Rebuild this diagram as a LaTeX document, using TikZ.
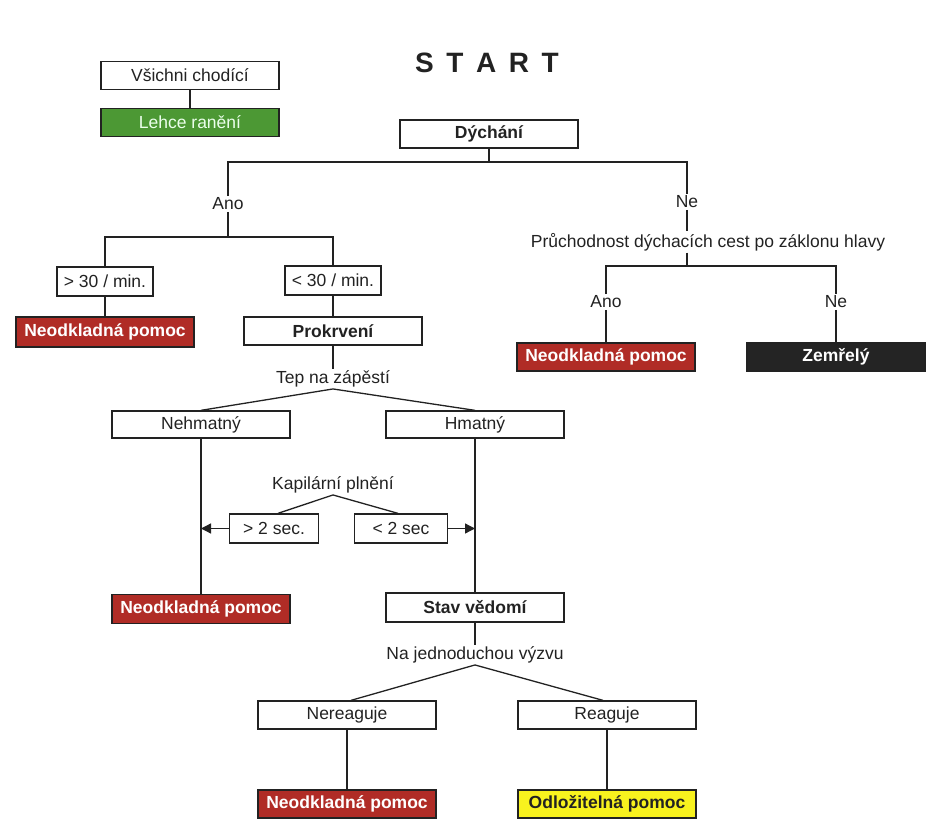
\documentclass[tikz,border=0pt]{standalone}
\usepackage{fontspec}
\setmainfont{Liberation Sans}
\usetikzlibrary{arrows.meta}

\definecolor{ink}{RGB}{34,34,34}
\definecolor{urgent}{RGB}{176,44,38}
\definecolor{minor}{RGB}{76,152,52}
\definecolor{deadfill}{RGB}{36,36,36}
\definecolor{delayed}{RGB}{248,242,30}

\tikzset{
  tbox/.style={draw=ink, line width=1.3pt, minimum width=178pt, minimum height=28pt,
    inner sep=0pt, text=ink, font=\fontsize{17.5}{19}\selectfont},
  nbox/.style={tbox, minimum width=96pt},
  bbox/.style={tbox, font=\fontsize{17.5}{19}\selectfont\bfseries},
  redbox/.style={bbox, fill=urgent, text=white},
  choice/.style={inner sep=1.5pt, text=ink, font=\fontsize{17.5}{19}\selectfont},
  link/.style={draw=ink, line width=1.3pt},
}

\begin{document}
\begin{tikzpicture}[x=1pt, y=-1pt]
  \useasboundingbox (0,0) rectangle (948,834);

  \node [font=\fontsize{28}{30}\selectfont\bfseries, text=ink] (start) at (487,63)
    {S\kern.45em T\kern.45em A\kern.45em R\kern.45em T};

  \node [tbox] (walking) at (190,75.5) {Všichni chodící};
  \node [tbox, fill=minor, text=green!8!white] (light) at (190,122.5) {Lehce ranění};

  \node [bbox] (dych) at (489,134) {Dýchání};
  \node [choice] (ano1) at (228,204) {Ano};
  \node [choice] (ne1) at (687,202) {Ne};
  \coordinate (j-dych) at (489,162);
  \coordinate (j-ano) at (228,237);

  % left branch
  \node [nbox, minimum height=29pt] (gt30) at (105,281.5) {> 30 / min.};
  \node [nbox, minimum height=29pt] (lt30) at (333,280.5) {< 30 / min.};
  \node [redbox, minimum height=30pt] (red-a) at (105,332) {Neodkladná pomoc};
  \node [bbox] (prok) at (333,331) {Prokrvení};
  \node [choice] (tep) at (333,379) {Tep na zápěstí};
  \node [tbox, minimum height=27pt] (nehm) at (201,424.5) {Nehmatný};
  \node [tbox, minimum height=27pt] (hmat) at (475,424.5) {Hmatný};
  \node [choice] (kap) at (333,485) {Kapilární plnění};
  \node [nbox, minimum width=89pt, minimum height=29pt] (gt2) at (274,528.5) {> 2 sec.};
  \node [nbox, minimum width=93pt, minimum height=29pt] (lt2) at (401,528.5) {< 2 sec};
  \node [redbox, minimum height=29pt] (red-b) at (201,609) {Neodkladná pomoc};
  \node [bbox, minimum height=29pt] (stav) at (475,607.5) {Stav vědomí};
  \node [choice] (vyzva) at (475,655) {Na jednoduchou výzvu};
  \node [tbox] (nerea) at (347,715) {Nereaguje};
  \node [tbox] (rea) at (607,715) {Reaguje};
  \node [redbox] (red-c) at (347,804) {Neodkladná pomoc};
  \node [bbox, fill=delayed] (odlo) at (607,804) {Odložitelná pomoc};

  % right branch
  \node [choice] (pruch) at (708,242) {Průchodnost dýchacích cest po záklonu hlavy};
  \coordinate (j-pruch) at (687,266);
  \node [choice] (ano2) at (606,302) {Ano};
  \node [choice] (ne2) at (836,302) {Ne};
  \node [redbox] (red-d) at (606,357) {Neodkladná pomoc};
  \node [bbox, fill=deadfill, text=white] (dead) at (836,357) {Zemřelý};

  \foreach \a/\b in {walking/light, gt30/red-a, lt30/prok, prok/tep,
                     nehm/red-b, hmat/stav, stav/vyzva, nerea/red-c,
                     rea/odlo, ano2/red-d, ne2/dead}
    \draw [link] (\a) -- (\b);

  \draw [link] (dych.south) -- (j-dych);
  \draw [link] (ano1) |- (j-dych) -| (ne1);
  \draw [link] (ano1) -- (j-ano);
  \draw [link] (gt30) |- (j-ano) -| (lt30);

  \draw [link] (ne1.south) -- (ne1.south |- pruch.north);
  \draw [link] (pruch.south -| j-pruch) -- (j-pruch);
  \draw [link] (ano2) |- (j-pruch) -| (ne2);

  \draw [link] (nehm.north) -- (tep.south) -- (hmat.north);
  \draw [link] ([xshift=4pt]gt2.north) -- (kap.south) -- ([xshift=-3pt]lt2.north);
  \draw [link] ([xshift=4pt]nerea.north) -- (vyzva.south) -- ([xshift=-4pt]rea.north);

  \draw [link, -{Triangle[length=10pt, width=10pt]}] (gt2.west) -- (gt2.west -| nehm.south);
  \draw [link, -{Triangle[length=10pt, width=10pt]}] (lt2.east) -- (lt2.east -| hmat.south);
\end{tikzpicture}
\end{document}
